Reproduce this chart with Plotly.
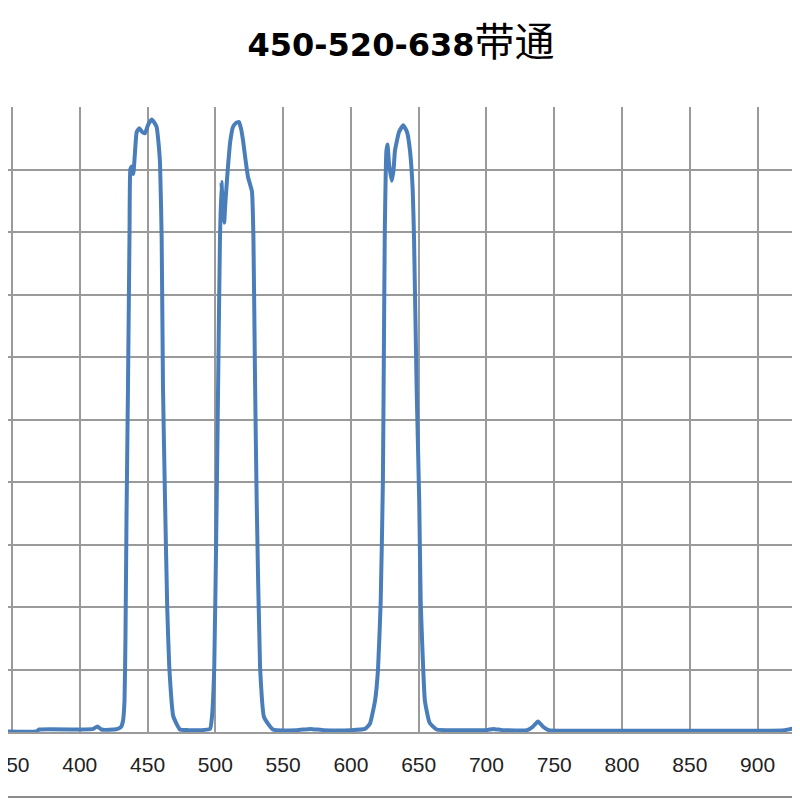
import plotly.graph_objects as go

wavelength = [
    340, 368, 370, 400, 410, 413, 416, 425, 428, 430.4, 431.9, 433.0, 433.7, 434.5,
    435.6, 436.7, 437.3, 438.3, 439.5, 440.5, 442.0, 443.9, 446, 448.1, 450.5, 453.1,
    455, 456.7, 458.2, 459.2, 460.4, 461.4, 462.9, 464.5, 466.0, 469.0, 473.9, 480,
    490, 496.1, 497.5, 499.2, 501.0, 502.3, 503.4, 504.5, 505.5, 506.5, 507.5, 509.3,
    511, 513.0, 515, 517.5, 519, 520.4, 522, 524.1, 527.0, 528.1, 529.3, 530.5, 533.0,
    535.9, 542.5, 560, 570, 580, 600, 610.4, 614, 617.8, 620, 622, 623.6, 624.3, 625,
    626.2, 627, 628.1, 630.1, 631.5, 632.5, 635.5, 638.6, 641.4, 643.6, 645.6, 646.6,
    648.5, 650.4, 651.5, 654.6, 658, 663.3, 680, 700, 705, 712, 730, 734, 738, 742,
    746, 780, 850, 900, 920, 932, 940,
]
transmission = [
    0.1, 0.1, 0.4, 0.4, 0.5, 0.9, 0.4, 0.4, 0.5, 0.8, 1.8, 5, 15, 35,
    56, 80, 90, 90.5, 89.3, 92, 96, 96.6, 96, 95.8, 97.2, 98.0,
    97.5, 96.8, 94, 91, 79, 55, 37, 20, 10.5, 2.5, 0.4, 0.3,
    0.3, 0.5, 2.4, 10.4, 37, 60, 78.7, 88, 84, 81.5, 85, 90.4,
    94.5, 96.8, 97.4, 97.6, 96.5, 94.7, 92, 88.8, 86.5, 79, 56, 37, 10.4,
    2.4, 0.4, 0.3, 0.5, 0.3, 0.3, 0.5, 1.3, 5, 10, 21, 40, 60, 80,
    93, 94, 91, 88.2, 90, 93, 96, 97.1, 96, 93, 86.7, 78.7,
    55, 37, 21, 5, 1.5, 0.4, 0.3, 0.3, 0.5, 0.3, 0.3, 0.8, 1.7, 0.8,
    0.3, 0.2, 0.2, 0.2, 0.3, 0.8, 1.2,
]
x_ticks = [350, 400, 450, 500, 550, 600, 650, 700, 750, 800, 850, 900, 950]
title_text = "450-520-638"
title_cjk = "带通"

GRID = "#9A9A9A"

fig = go.Figure()
fig.add_trace(go.Scatter(
    x=wavelength, y=transmission, mode="lines",
    line=dict(color="#4A7EBB", width=4, shape="spline", smoothing=0.4),
    showlegend=False, hoverinfo="skip",
))

fig.update_layout(
    template="none",
    width=800, height=800,
    margin=dict(l=0, r=0, t=99, b=76),
    paper_bgcolor="white", plot_bgcolor="white",
    title=dict(
        text=f"<b>{title_text}</b><span style='font-family:\"Noto Sans CJK SC\";font-weight:normal;font-size:40px'>{title_cjk}</span>",
        x=393 / 800, xanchor="center", xref="container",
        y=1 - 37 / 800, yanchor="middle", yref="container",
        font=dict(family="DejaVu Sans", size=32, color="black"),
    ),
    xaxis=dict(
        range=[347.05, 937.2],
        tickvals=x_ticks,
        ticktext=[str(v) for v in x_ticks],
        showgrid=True, gridcolor=GRID, gridwidth=1.6,
        showline=True, linecolor=GRID, linewidth=1.6,
        zeroline=False, ticks="", automargin=False,
        ticklabeloverflow="allow", ticklabelstandoff=13,
        tickfont=dict(family="Liberation Sans", size=21, color="#222222"),
    ),
    yaxis=dict(
        range=[0, 100], dtick=10, tick0=0,
        showgrid=True, gridcolor=GRID, gridwidth=1.6,
        showline=False, zeroline=False, showticklabels=False,
        ticks="", automargin=False,
    ),
    shapes=[
        dict(type="line", xref="paper", yref="paper", x0=0, x1=1,
             y0=(724 - 789) / 625, y1=(724 - 789) / 625,
             line=dict(color="#8C8C8C", width=2)),
    ],
)

fig.write_html("out.html")
